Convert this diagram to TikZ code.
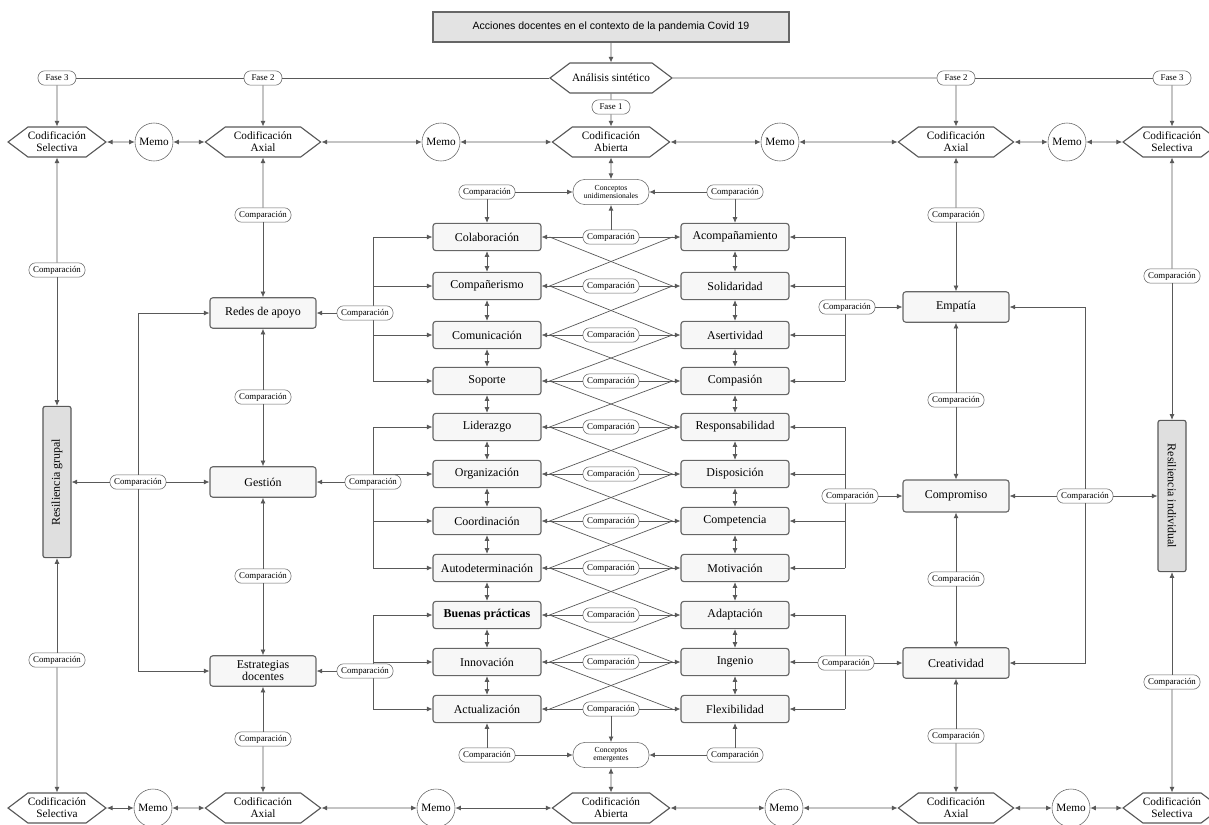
\documentclass[tikz,border=0pt]{standalone}
\usepackage{fontspec}
\setmainfont{Liberation Serif}
\setsansfont{Liberation Sans}
\usetikzlibrary{arrows.meta,shapes.symbols}

\begin{document}
\begin{tikzpicture}[
  x=0.025cm, y=-0.025cm,
  every node/.style={font=\fontsize{8.5}{9.5}\selectfont},
  >={Latex[length=4pt,width=3.5pt]},
  link/.style={draw=black!65, line width=0.5pt},
  arr/.style={link, ->},
  dbl/.style={link, <->},
  heading/.style={draw=black!60, fill=gray!22, thick, minimum width=8.9cm, minimum height=0.75cm, font=\sffamily\fontsize{7.5}{9}\selectfont},
  concept/.style={draw=black!60, fill=gray!6, thick, rounded corners=2pt, minimum width=2.7cm, minimum height=0.68cm, inner sep=1pt},
  core/.style={concept, minimum width=2.65cm, minimum height=0.76cm, align=center, font=\fontsize{8.5}{8.5}\selectfont},
  comp/.style={draw=black!60, fill=white, rounded corners=0.17cm, minimum height=0.36cm, inner xsep=3pt, inner ysep=1pt, font=\fontsize{6.3}{7}\selectfont},
  phase/.style={comp, minimum width=0.95cm},
  coding/.style={shape=signal, signal to=east and west, signal pointer angle=74, draw=black!65, fill=white, thick, minimum height=0.75cm, align=center, inner sep=0pt, font=\fontsize{8}{8.5}\selectfont},
  memo/.style={circle, draw=black!60, fill=white, minimum size=0.95cm, inner sep=0pt, font=\fontsize{8}{9}\selectfont},
  emerge/.style={draw=black!60, fill=white, rounded corners=0.3cm, minimum width=1.9cm, minimum height=0.63cm, align=center, inner sep=1pt, font=\fontsize{5.5}{6}\selectfont},
  resil/.style={draw=black!65, fill=gray!25, thick, rounded corners=1.5pt, minimum width=3.78cm, minimum height=0.7cm}
]
\useasboundingbox (0,0) rectangle (1209,824);

% ---------- Title and synthesis ----------
\node[heading] (title) at (611,27) {Acciones docentes en el contexto de la pandemia Covid 19};
\node[coding, minimum width=3.05cm] (an) at (611,78) {Análisis sintético};
\node[phase] (f1) at (611,107) {Fase 1};
\node[phase] (f2l) at (263,78) {Fase 2};
\node[phase] (f3l) at (57,78) {Fase 3};
\node[phase] (f2r) at (956,78) {Fase 2};
\node[phase] (f3r) at (1172,78) {Fase 3};

\draw[arr] (title) -- (an);
\draw[link] (an) -- (f1);
\draw[link] (an) -- (f2l);
\draw[link] (f2l) -- (f3l);
\draw[link] (an) -- (f2r);
\draw[link] (f2r) -- (f3r);

% ---------- Top coding row ----------
\node[coding, minimum width=2.33cm] (selTL) at (57,142) {Codificación\\Selectiva};
\node[memo] (memoT1) at (154,142) {Memo};
\node[coding, minimum width=2.88cm] (axTL) at (263,142) {Codificación\\Axial};
\node[memo] (memoT2) at (441,142) {Memo};
\node[coding, minimum width=2.93cm] (abT) at (611,142) {Codificación\\Abierta};
\node[memo] (memoT3) at (780,142) {Memo};
\node[coding, minimum width=2.88cm] (axTR) at (956,142) {Codificación\\Axial};
\node[memo] (memoT4) at (1067,142) {Memo};
\node[coding, minimum width=2.33cm] (selTR) at (1172,142) {Codificación\\Selectiva};

\draw[arr] (f1) -- (abT);
\draw[arr] (f2l) -- (axTL);
\draw[arr] (f3l) -- (selTL);
\draw[arr] (f2r) -- (axTR);
\draw[arr] (f3r) -- (selTR);
\draw[dbl] (selTL) -- (memoT1);
\draw[dbl] (memoT1) -- (axTL);
\draw[dbl] (axTL) -- (memoT2);
\draw[dbl] (memoT2) -- (abT);
\draw[dbl] (abT) -- (memoT3);
\draw[dbl] (memoT3) -- (axTR);
\draw[dbl] (axTR) -- (memoT4);
\draw[dbl] (memoT4) -- (selTR);

% ---------- Bottom coding row ----------
\node[coding, minimum width=2.33cm] (selBL) at (57,808) {Codificación\\Selectiva};
\node[memo] (memoB1) at (153,808) {Memo};
\node[coding, minimum width=2.88cm] (axBL) at (263,808) {Codificación\\Axial};
\node[memo] (memoB2) at (436,808) {Memo};
\node[coding, minimum width=2.93cm] (abB) at (611,808) {Codificación\\Abierta};
\node[memo] (memoB3) at (784,808) {Memo};
\node[coding, minimum width=2.88cm] (axBR) at (956,808) {Codificación\\Axial};
\node[memo] (memoB4) at (1071,808) {Memo};
\node[coding, minimum width=2.33cm] (selBR) at (1172,808) {Codificación\\Selectiva};

\draw[dbl] (selBL) -- (memoB1);
\draw[dbl] (memoB1) -- (axBL);
\draw[dbl] (axBL) -- (memoB2);
\draw[dbl] (memoB2) -- (abB);
\draw[dbl] (abB) -- (memoB3);
\draw[dbl] (memoB3) -- (axBR);
\draw[dbl] (axBR) -- (memoB4);
\draw[dbl] (memoB4) -- (selBR);

% ---------- Open coding: concepts ----------
\node[concept] (l1) at (487,237) {Colaboración};
\node[concept] (l2) at (487,286) {Compañerismo};
\node[concept] (l3) at (487,335) {Comunicación};
\node[concept] (l4) at (487,381) {Soporte};
\node[concept] (l5) at (487,427) {Liderazgo};
\node[concept] (l6) at (487,474) {Organización};
\node[concept] (l7) at (487,521) {Coordinación};
\node[concept] (l8) at (487,568) {Autodeterminación};
\node[concept] (l9) at (487,615) {\textbf{Buenas prácticas}};
\node[concept] (l10) at (487,662) {Innovación};
\node[concept] (l11) at (487,709) {Actualización};

\node[concept] (r1) at (735,237) {Acompañamiento};
\node[concept] (r2) at (735,286) {Solidaridad};
\node[concept] (r3) at (735,335) {Asertividad};
\node[concept] (r4) at (735,381) {Compasión};
\node[concept] (r5) at (735,427) {Responsabilidad};
\node[concept] (r6) at (735,474) {Disposición};
\node[concept] (r7) at (735,521) {Competencia};
\node[concept] (r8) at (735,568) {Motivación};
\node[concept] (r9) at (735,615) {Adaptación};
\node[concept] (r10) at (735,662) {Ingenio};
\node[concept] (r11) at (735,709) {Flexibilidad};

% vertical links inside each column
\draw[dbl] (l1) -- (l2); \draw[dbl] (l2) -- (l3); \draw[dbl] (l3) -- (l4); \draw[dbl] (l4) -- (l5); \draw[dbl] (l5) -- (l6);
\draw[dbl] (l6) -- (l7); \draw[dbl] (l7) -- (l8); \draw[dbl] (l8) -- (l9); \draw[dbl] (l9) -- (l10); \draw[dbl] (l10) -- (l11);
\draw[dbl] (r1) -- (r2); \draw[dbl] (r2) -- (r3); \draw[dbl] (r3) -- (r4); \draw[dbl] (r4) -- (r5); \draw[dbl] (r5) -- (r6);
\draw[dbl] (r6) -- (r7); \draw[dbl] (r7) -- (r8); \draw[dbl] (r8) -- (r9); \draw[dbl] (r9) -- (r10); \draw[dbl] (r10) -- (r11);

% crossing links between neighbouring rows
\draw[link] ([xshift=0.2cm]l1.east) -- ([xshift=-0.2cm]r2.west);  \draw[link] ([xshift=-0.2cm]r1.west) -- ([xshift=0.2cm]l2.east);
\draw[link] ([xshift=0.2cm]l2.east) -- ([xshift=-0.2cm]r3.west);  \draw[link] ([xshift=-0.2cm]r2.west) -- ([xshift=0.2cm]l3.east);
\draw[link] ([xshift=0.2cm]l3.east) -- ([xshift=-0.2cm]r4.west);  \draw[link] ([xshift=-0.2cm]r3.west) -- ([xshift=0.2cm]l4.east);
\draw[link] ([xshift=0.2cm]l4.east) -- ([xshift=-0.2cm]r5.west);  \draw[link] ([xshift=-0.2cm]r4.west) -- ([xshift=0.2cm]l5.east);
\draw[link] ([xshift=0.2cm]l5.east) -- ([xshift=-0.2cm]r6.west);  \draw[link] ([xshift=-0.2cm]r5.west) -- ([xshift=0.2cm]l6.east);
\draw[link] ([xshift=0.2cm]l6.east) -- ([xshift=-0.2cm]r7.west);  \draw[link] ([xshift=-0.2cm]r6.west) -- ([xshift=0.2cm]l7.east);
\draw[link] ([xshift=0.2cm]l7.east) -- ([xshift=-0.2cm]r8.west);  \draw[link] ([xshift=-0.2cm]r7.west) -- ([xshift=0.2cm]l8.east);
\draw[link] ([xshift=0.2cm]l8.east) -- ([xshift=-0.2cm]r9.west);  \draw[link] ([xshift=-0.2cm]r8.west) -- ([xshift=0.2cm]l9.east);
\draw[link] ([xshift=0.2cm]l9.east) -- ([xshift=-0.2cm]r10.west); \draw[link] ([xshift=-0.2cm]r9.west) -- ([xshift=0.2cm]l10.east);
\draw[link] ([xshift=0.2cm]l10.east) -- ([xshift=-0.2cm]r11.west); \draw[link] ([xshift=-0.2cm]r10.west) -- ([xshift=0.2cm]l11.east);

% row comparisons
\node[comp] (m1) at (611,237) {Comparación};  \draw[arr] (m1) -- (l1);  \draw[arr] (m1) -- (r1);
\node[comp] (m2) at (611,286) {Comparación};  \draw[arr] (m2) -- (l2);  \draw[arr] (m2) -- (r2);
\node[comp] (m3) at (611,335) {Comparación};  \draw[arr] (m3) -- (l3);  \draw[arr] (m3) -- (r3);
\node[comp] (m4) at (611,381) {Comparación};  \draw[arr] (m4) -- (l4);  \draw[arr] (m4) -- (r4);
\node[comp] (m5) at (611,427) {Comparación};  \draw[arr] (m5) -- (l5);  \draw[arr] (m5) -- (r5);
\node[comp] (m6) at (611,474) {Comparación};  \draw[arr] (m6) -- (l6);  \draw[arr] (m6) -- (r6);
\node[comp] (m7) at (611,521) {Comparación};  \draw[arr] (m7) -- (l7);  \draw[arr] (m7) -- (r7);
\node[comp] (m8) at (611,568) {Comparación};  \draw[arr] (m8) -- (l8);  \draw[arr] (m8) -- (r8);
\node[comp] (m9) at (611,615) {Comparación};  \draw[arr] (m9) -- (l9);  \draw[arr] (m9) -- (r9);
\node[comp] (m10) at (611,662) {Comparación}; \draw[arr] (m10) -- (l10); \draw[arr] (m10) -- (r10);
\node[comp] (m11) at (611,709) {Comparación}; \draw[arr] (m11) -- (l11); \draw[arr] (m11) -- (r11);

% ---------- Unidimensional and emergent concepts ----------
\node[emerge] (cuni) at (611,192) {Conceptos\\unidimensionales};
\node[comp] (cu1) at (487,192) {Comparación};
\node[comp] (cu2) at (735,192) {Comparación};
\draw[dbl] (abT) -- (cuni);
\draw[arr] (cu1) -- (cuni);
\draw[arr] (cu2) -- (cuni);
\draw[arr] (cu1) -- (l1);
\draw[arr] (cu2) -- (r1);
\draw[arr] (m1) -- (cuni);

\node[emerge] (cemer) at (611,755) {Conceptos\\emergentes};
\node[comp] (ce1) at (487,755) {Comparación};
\node[comp] (ce2) at (735,755) {Comparación};
\draw[dbl] (cemer) -- (abB);
\draw[arr] (ce1) -- (cemer);
\draw[arr] (ce2) -- (cemer);
\draw[arr] (ce1) -- (l11);
\draw[arr] (ce2) -- (r11);
\draw[arr] (m11) -- (cemer);

% ---------- Axial categories (left) ----------
\node[core] (redes) at (263,313) {Redes de apoyo};
\node[core] (gestion) at (263,482) {Gestión};
\node[core] (estrat) at (263,671) {Estrategias\\docentes};

\coordinate (brL) at (373,0);
\draw[link] (brL |- l1) -- (brL |- l4);
\draw[arr] (brL |- l1) -- (l1); \draw[arr] (brL |- l2) -- (l2); \draw[arr] (brL |- l3) -- (l3); \draw[arr] (brL |- l4) -- (l4);
\draw[link] (brL |- l5) -- (brL |- l8);
\draw[arr] (brL |- l5) -- (l5); \draw[arr] (brL |- l6) -- (l6); \draw[arr] (brL |- l7) -- (l7); \draw[arr] (brL |- l8) -- (l8);
\draw[link] (brL |- l9) -- (brL |- l11);
\draw[arr] (brL |- l9) -- (l9); \draw[arr] (brL |- l10) -- (l10); \draw[arr] (brL |- l11) -- (l11);

\node[comp] (kr) at (365,313) {Comparación};
\node[comp] (kg) at (373,482) {Comparación};
\node[comp] (ke) at (365,671) {Comparación};
\draw[arr] (kr) -- (redes);
\draw[arr] (kg) -- (gestion);
\draw[arr] (ke) -- (estrat);

\node[comp] (ka1) at (263,215) {Comparación};
\node[comp] (ka2) at (263,397) {Comparación};
\node[comp] (ka3) at (263,576) {Comparación};
\node[comp] (ka4) at (263,739) {Comparación};
\draw[arr] (ka1) -- (axTL);   \draw[arr] (ka1) -- (redes);
\draw[arr] (ka2) -- (redes);  \draw[arr] (ka2) -- (gestion);
\draw[arr] (ka3) -- (gestion); \draw[arr] (ka3) -- (estrat);
\draw[arr] (ka4) -- (estrat); \draw[arr] (ka4) -- (axBL);

% ---------- Selective category (left) ----------
\node[resil, rotate=90] (resg) at (57,482) {Resiliencia grupal};
\node[comp] (kg1) at (57,270) {Comparación};
\node[comp] (kg2) at (57,660) {Comparación};
\draw[arr] (kg1) -- (selTL); \draw[arr] (kg1) -- (resg);
\draw[arr] (kg2) -- (resg);  \draw[arr] (kg2) -- (selBL);

\node[comp] (kf) at (138,482) {Comparación};
\draw[arr] (kf) -- (resg);
\draw[arr] (kf) -- (gestion);
\draw[arr] (kf) |- (redes);
\draw[arr] (kf) |- (estrat);

% ---------- Axial categories (right) ----------
\node[core] (emp) at (956,307) {Empatía};
\node[core, minimum height=0.8cm] (compro) at (956,496) {Compromiso};
\node[core] (crea) at (956,663) {Creatividad};

\coordinate (brR) at (845,0);
\draw[link] (brR |- r1) -- (brR |- r4);
\draw[arr] (brR |- r1) -- (r1); \draw[arr] (brR |- r2) -- (r2); \draw[arr] (brR |- r3) -- (r3); \draw[arr] (brR |- r4) -- (r4);
\draw[link] (brR |- r5) -- (brR |- r8);
\draw[arr] (brR |- r5) -- (r5); \draw[arr] (brR |- r6) -- (r6); \draw[arr] (brR |- r7) -- (r7); \draw[arr] (brR |- r8) -- (r8);
\draw[link] (brR |- r9) -- (brR |- r11);
\draw[arr] (brR |- r9) -- (r9); \draw[arr] (brR |- r10) -- (r10); \draw[arr] (brR |- r11) -- (r11);

\node[comp] (kem) at (847,307) {Comparación};
\node[comp] (kco) at (850,496) {Comparación};
\node[comp] (kcr) at (846,663) {Comparación};
\draw[arr] (kem) -- (emp);
\draw[arr] (kco) -- (compro);
\draw[arr] (kcr) -- (crea);

\node[comp] (kb1) at (956,215) {Comparación};
\node[comp] (kb2) at (956,400) {Comparación};
\node[comp] (kb3) at (956,579) {Comparación};
\node[comp] (kb4) at (956,736) {Comparación};
\draw[arr] (kb1) -- (axTR);   \draw[arr] (kb1) -- (emp);
\draw[arr] (kb2) -- (emp);    \draw[arr] (kb2) -- (compro);
\draw[arr] (kb3) -- (compro); \draw[arr] (kb3) -- (crea);
\draw[arr] (kb4) -- (crea);   \draw[arr] (kb4) -- (axBR);

% ---------- Selective category (right) ----------
\node[resil, rotate=-90] (resi) at (1172,496) {Resiliencia individual};
\node[comp] (ki1) at (1172,276) {Comparación};
\node[comp] (ki2) at (1172,682) {Comparación};
\draw[arr] (ki1) -- (selTR); \draw[arr] (ki1) -- (resi);
\draw[arr] (ki2) -- (resi);  \draw[arr] (ki2) -- (selBR);

\node[comp] (kfr) at (1085,496) {Comparación};
\draw[arr] (kfr) -- (compro);
\draw[arr] (kfr) -- (resi);
\draw[arr] (kfr) |- (emp);
\draw[arr] (kfr) |- (crea);

\end{tikzpicture}
\end{document}
